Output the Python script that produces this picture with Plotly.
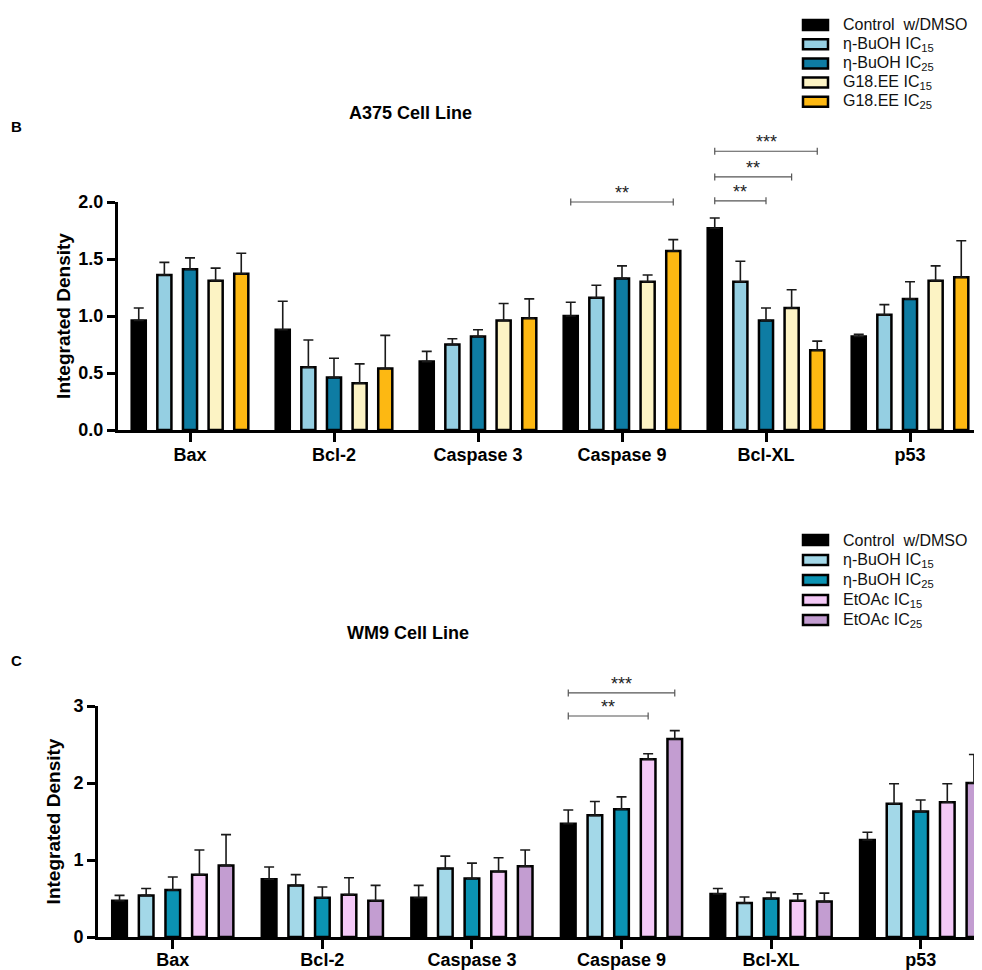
import plotly.graph_objects as go

# ---------------- data ----------------
categories = ["Bax", "Bcl-2", "Caspase 3", "Caspase 9", "Bcl-XL", "p53"]

a375_names = ["Control\u00a0 w/DMSO", "η-BuOH IC<sub>15</sub>", "η-BuOH IC<sub>25</sub>",
              "G18.EE IC<sub>15</sub>", "G18.EE IC<sub>25</sub>"]
a375_control = [0.96, 0.88, 0.60, 1.00, 1.77, 0.82]
a375_control_err = [0.11, 0.25, 0.09, 0.12, 0.09, 0.02]
a375_buoh15 = [1.36, 0.55, 0.75, 1.16, 1.30, 1.01]
a375_buoh15_err = [0.11, 0.24, 0.05, 0.11, 0.18, 0.09]
a375_buoh25 = [1.41, 0.46, 0.82, 1.33, 0.96, 1.15]
a375_buoh25_err = [0.10, 0.17, 0.06, 0.11, 0.11, 0.15]
a375_g18_15 = [1.31, 0.41, 0.96, 1.30, 1.07, 1.31]
a375_g18_15_err = [0.11, 0.17, 0.15, 0.06, 0.16, 0.13]
a375_g18_25 = [1.37, 0.54, 0.98, 1.57, 0.70, 1.34]
a375_g18_25_err = [0.18, 0.29, 0.17, 0.10, 0.08, 0.32]

wm9_names = ["Control\u00a0 w/DMSO", "η-BuOH IC<sub>15</sub>", "η-BuOH IC<sub>25</sub>",
             "EtOAc IC<sub>15</sub>", "EtOAc IC<sub>25</sub>"]
wm9_control = [0.47, 0.75, 0.51, 1.47, 0.56, 1.26]
wm9_control_err = [0.07, 0.16, 0.16, 0.18, 0.07, 0.10]
wm9_buoh15 = [0.54, 0.67, 0.89, 1.58, 0.44, 1.73]
wm9_buoh15_err = [0.09, 0.14, 0.16, 0.18, 0.08, 0.26]
wm9_buoh25 = [0.61, 0.51, 0.76, 1.66, 0.50, 1.63]
wm9_buoh25_err = [0.17, 0.14, 0.20, 0.16, 0.08, 0.15]
wm9_etoac15 = [0.81, 0.55, 0.85, 2.31, 0.47, 1.75]
wm9_etoac15_err = [0.32, 0.22, 0.18, 0.07, 0.09, 0.24]
wm9_etoac25 = [0.93, 0.47, 0.92, 2.57, 0.46, 2.00]
wm9_etoac25_err = [0.40, 0.20, 0.21, 0.11, 0.11, 0.37]

# significance brackets: category index, from series, to series, level, label
a375_sig_cat = [3, 4, 4, 4]
a375_sig_from = [0, 0, 0, 0]
a375_sig_to = [4, 2, 3, 4]
a375_sig_level = [2.00, 2.01, 2.22, 2.445]
a375_sig_label = ["**", "**", "**", "***"]

wm9_sig_cat = [3, 3]
wm9_sig_from = [0, 0]
wm9_sig_to = [4, 3]
wm9_sig_level = [3.17, 2.87]
wm9_sig_label = ["***", "**"]

a375_yticks = [0.0, 0.5, 1.0, 1.5, 2.0]
a375_yticklabels = ["0.0", "0.5", "1.0", "1.5", "2.0"]
wm9_yticks = [0, 1, 2, 3]
wm9_yticklabels = ["0", "1", "2", "3"]

# ---------------- styles ----------------
a375_colors = ["#000000", "#95cfe2", "#0e7ca3", "#fcf3c4", "#fdb812"]
wm9_colors = ["#000000", "#a3d8e8", "#0b93b3", "#f4c9f7", "#c39dd1"]

PAGE_OFF = 8            # default body margin of the page
W, H = 982 - PAGE_OFF, 970 - PAGE_OFF
BARGAP = 0.11
BARGROUPGAP = 0.45
SANS = "Liberation Sans, Arial, sans-serif"


def px(xp):
    return (xp - PAGE_OFF) / W


def py(yp):
    return 1 - (yp - PAGE_OFF) / H


fig = go.Figure()

a375_vals = [a375_control, a375_buoh15, a375_buoh25, a375_g18_15, a375_g18_25]
a375_errs = [a375_control_err, a375_buoh15_err, a375_buoh25_err, a375_g18_15_err, a375_g18_25_err]
wm9_vals = [wm9_control, wm9_buoh15, wm9_buoh25, wm9_etoac15, wm9_etoac25]
wm9_errs = [wm9_control_err, wm9_buoh15_err, wm9_buoh25_err, wm9_etoac15_err, wm9_etoac25_err]


def add_bars(vals, errs, colors, names, xa, ya, group):
    for i, (v, e) in enumerate(zip(vals, errs)):
        fig.add_trace(go.Bar(
            x=categories, y=v, name=names[i], xaxis=xa, yaxis=ya,
            offsetgroup=f"{group}{i}",
            marker=dict(color=colors[i], line=dict(color="#000000", width=2.5)),
            error_y=dict(type="data", array=e, arrayminus=[0] * len(e), symmetric=False,
                         color="#1a1a1a", thickness=1.6, width=5),
            showlegend=False,
        ))


add_bars(a375_vals, a375_errs, a375_colors, a375_names, "x", "y", "a")
add_bars(wm9_vals, wm9_errs, wm9_colors, wm9_names, "x2", "y2", "w")

shapes = []
annotations = []

slot = (1 - BARGAP) / 5


def off(i):
    return (i - 2) * slot


def add_sig(cats, frs, tos, levels, labels, xref, ydref, ymax):
    for c, f, t, lv, lab in zip(cats, frs, tos, levels, labels):
        x0 = c + off(f)
        x1 = c + off(t)
        yd = lv / ymax
        shapes.append(dict(type="line", xref=xref, yref=ydref, x0=x0, x1=x1, y0=yd, y1=yd,
                           line=dict(color="#555555", width=1.2)))
        for xx in (x0, x1):
            shapes.append(dict(type="line", xref=xref, yref=ydref, x0=xx, x1=xx,
                               ysizemode="pixel", yanchor=yd, y0=-3.5, y1=3.5,
                               line=dict(color="#555555", width=1.2)))
        annotations.append(dict(x=(x0 + x1) / 2, y=yd, xref=xref, yref=ydref, text=lab,
                                showarrow=False, yanchor="bottom", yshift=-3,
                                font=dict(size=18, color="#222222", family=SANS)))


add_sig(a375_sig_cat, a375_sig_from, a375_sig_to, a375_sig_level, a375_sig_label, "x", "y domain", 2.0)
add_sig(wm9_sig_cat, wm9_sig_from, wm9_sig_to, wm9_sig_level, wm9_sig_label, "x2", "y2 domain", 3.0)


def add_legend(names, colors, y_first, spacing):
    for i, (n, c) in enumerate(zip(names, colors)):
        yp = y_first + i * spacing
        shapes.append(dict(type="rect", xref="paper", yref="paper",
                           x0=px(803), x1=px(828), y0=py(yp + 5), y1=py(yp - 5),
                           fillcolor=c, line=dict(color="#000000", width=2.5)))
        annotations.append(dict(x=px(841), y=py(yp), xref="paper", yref="paper", text=n,
                                showarrow=False, xanchor="left", yanchor="middle",
                                font=dict(size=16, color="#111111", family=SANS)))


add_legend(a375_names, a375_colors, 25, 19.2)
add_legend(wm9_names, wm9_colors, 540, 20)

# titles and panel letters
annotations += [
    dict(x=px(410), y=py(113), xref="paper", yref="paper", text="<b>A375 Cell Line</b>",
         showarrow=False, xanchor="center", yanchor="middle", font=dict(size=18, color="#000", family=SANS)),
    dict(x=px(408), y=py(633), xref="paper", yref="paper", text="<b>WM9 Cell Line</b>",
         showarrow=False, xanchor="center", yanchor="middle", font=dict(size=18, color="#000", family=SANS)),
    dict(x=px(9), y=py(126), xref="paper", yref="paper", text="<b>B</b>",
         showarrow=False, xanchor="left", yanchor="middle", font=dict(size=15, color="#000", family=SANS)),
    dict(x=px(9), y=py(660), xref="paper", yref="paper", text="<b>C</b>",
         showarrow=False, xanchor="left", yanchor="middle", font=dict(size=15, color="#000", family=SANS)),
]

xaxis_common = dict(type="category", showline=True, linecolor="#000", linewidth=3,
                    ticks="outside", ticklen=9, tickwidth=3, tickcolor="#000",
                    showgrid=False, zeroline=False, automargin=False,
                    tickfont=dict(family=SANS, size=18, color="#000"))
yaxis_common = dict(showline=True, linecolor="#000", linewidth=3,
                    ticks="outside", ticklen=8, tickwidth=3, tickcolor="#000",
                    showgrid=False, zeroline=False, automargin=False,
                    tickfont=dict(family=SANS, size=18, color="#000"))

fig.update_layout(
    template="none",
    width=W, height=H,
    margin=dict(l=0, r=0, t=0, b=0, pad=0, autoexpand=False),
    paper_bgcolor="white", plot_bgcolor="white",
    barmode="group", bargap=BARGAP, bargroupgap=BARGROUPGAP,
    xaxis=dict(xaxis_common, domain=[px(118), 1], anchor="y", range=[-0.5, 5.5],
               ticklabelstandoff=-3,
               tickvals=categories, ticktext=["<b>%s</b>" % c for c in categories]),
    yaxis=dict(yaxis_common, domain=[py(430), py(202)], anchor="x", range=[0, 2.0],
               tickvals=a375_yticks, ticktext=["<b>%s</b>" % t for t in a375_yticklabels],
               title=dict(text="<b>Integrated Density</b>", standoff=3,
                          font=dict(family=SANS, size=19, color="#000"))),
    xaxis2=dict(xaxis_common, domain=[px(98), 1], anchor="y2", range=[-0.5, 5.41],
                ticklabelstandoff=-5,
                tickvals=categories, ticktext=["<b>%s</b>" % c for c in categories]),
    yaxis2=dict(yaxis_common, domain=[py(937), py(706)], anchor="x2", range=[0, 3.0],
                tickvals=wm9_yticks, ticktext=["<b>%s</b>" % t for t in wm9_yticklabels],
                title=dict(text="<b>Integrated Density</b>", standoff=8,
                           font=dict(family=SANS, size=19, color="#000"))),
    shapes=shapes,
    annotations=annotations,
    showlegend=False,
)

fig.write_html("out.html")
